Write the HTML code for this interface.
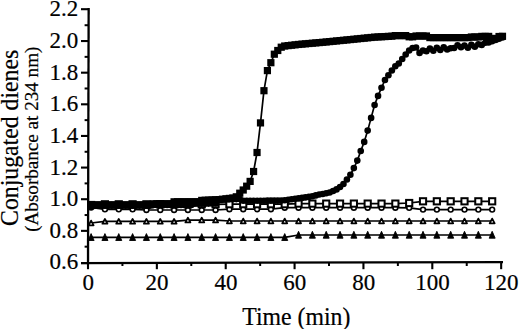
<!DOCTYPE html>
<html><head><meta charset="utf-8"><style>
html,body{margin:0;padding:0;background:#fff;}
svg{display:block;}
</style></head><body>
<svg width="520" height="329" viewBox="0 0 520 329">
<rect width="520" height="329" fill="#fff"/>
<g id="series">
<polyline points="91.10,237.30 104.93,237.30 118.76,237.30 132.59,237.30 146.42,237.30 160.25,237.30 174.08,237.30 187.91,237.30 201.74,237.30 215.57,237.30 229.40,237.30 243.23,237.30 257.06,237.30 270.89,237.30 284.72,237.30 298.55,235.00 312.38,235.00 326.21,235.00 340.04,235.00 353.87,235.00 367.70,235.00 381.53,235.00 395.36,235.00 409.19,235.00 423.02,235.00 436.85,235.00 450.68,235.00 464.51,235.00 478.34,235.00 492.17,235.00" fill="none" stroke="#000" stroke-width="1.70" stroke-linejoin="round"/>
<path d="M91.10 233.60L94.10 240.50L88.10 240.50Z" fill="#000" stroke="#000" stroke-width="0.9" stroke-linejoin="round"/>
<path d="M104.93 233.60L107.93 240.50L101.93 240.50Z" fill="#000" stroke="#000" stroke-width="0.9" stroke-linejoin="round"/>
<path d="M118.76 233.60L121.76 240.50L115.76 240.50Z" fill="#000" stroke="#000" stroke-width="0.9" stroke-linejoin="round"/>
<path d="M132.59 233.60L135.59 240.50L129.59 240.50Z" fill="#000" stroke="#000" stroke-width="0.9" stroke-linejoin="round"/>
<path d="M146.42 233.60L149.42 240.50L143.42 240.50Z" fill="#000" stroke="#000" stroke-width="0.9" stroke-linejoin="round"/>
<path d="M160.25 233.60L163.25 240.50L157.25 240.50Z" fill="#000" stroke="#000" stroke-width="0.9" stroke-linejoin="round"/>
<path d="M174.08 233.60L177.08 240.50L171.08 240.50Z" fill="#000" stroke="#000" stroke-width="0.9" stroke-linejoin="round"/>
<path d="M187.91 233.60L190.91 240.50L184.91 240.50Z" fill="#000" stroke="#000" stroke-width="0.9" stroke-linejoin="round"/>
<path d="M201.74 233.60L204.74 240.50L198.74 240.50Z" fill="#000" stroke="#000" stroke-width="0.9" stroke-linejoin="round"/>
<path d="M215.57 233.60L218.57 240.50L212.57 240.50Z" fill="#000" stroke="#000" stroke-width="0.9" stroke-linejoin="round"/>
<path d="M229.40 233.60L232.40 240.50L226.40 240.50Z" fill="#000" stroke="#000" stroke-width="0.9" stroke-linejoin="round"/>
<path d="M243.23 233.60L246.23 240.50L240.23 240.50Z" fill="#000" stroke="#000" stroke-width="0.9" stroke-linejoin="round"/>
<path d="M257.06 233.60L260.06 240.50L254.06 240.50Z" fill="#000" stroke="#000" stroke-width="0.9" stroke-linejoin="round"/>
<path d="M270.89 233.60L273.89 240.50L267.89 240.50Z" fill="#000" stroke="#000" stroke-width="0.9" stroke-linejoin="round"/>
<path d="M284.72 233.60L287.72 240.50L281.72 240.50Z" fill="#000" stroke="#000" stroke-width="0.9" stroke-linejoin="round"/>
<path d="M298.55 231.30L301.55 238.20L295.55 238.20Z" fill="#000" stroke="#000" stroke-width="0.9" stroke-linejoin="round"/>
<path d="M312.38 231.30L315.38 238.20L309.38 238.20Z" fill="#000" stroke="#000" stroke-width="0.9" stroke-linejoin="round"/>
<path d="M326.21 231.30L329.21 238.20L323.21 238.20Z" fill="#000" stroke="#000" stroke-width="0.9" stroke-linejoin="round"/>
<path d="M340.04 231.30L343.04 238.20L337.04 238.20Z" fill="#000" stroke="#000" stroke-width="0.9" stroke-linejoin="round"/>
<path d="M353.87 231.30L356.87 238.20L350.87 238.20Z" fill="#000" stroke="#000" stroke-width="0.9" stroke-linejoin="round"/>
<path d="M367.70 231.30L370.70 238.20L364.70 238.20Z" fill="#000" stroke="#000" stroke-width="0.9" stroke-linejoin="round"/>
<path d="M381.53 231.30L384.53 238.20L378.53 238.20Z" fill="#000" stroke="#000" stroke-width="0.9" stroke-linejoin="round"/>
<path d="M395.36 231.30L398.36 238.20L392.36 238.20Z" fill="#000" stroke="#000" stroke-width="0.9" stroke-linejoin="round"/>
<path d="M409.19 231.30L412.19 238.20L406.19 238.20Z" fill="#000" stroke="#000" stroke-width="0.9" stroke-linejoin="round"/>
<path d="M423.02 231.30L426.02 238.20L420.02 238.20Z" fill="#000" stroke="#000" stroke-width="0.9" stroke-linejoin="round"/>
<path d="M436.85 231.30L439.85 238.20L433.85 238.20Z" fill="#000" stroke="#000" stroke-width="0.9" stroke-linejoin="round"/>
<path d="M450.68 231.30L453.68 238.20L447.68 238.20Z" fill="#000" stroke="#000" stroke-width="0.9" stroke-linejoin="round"/>
<path d="M464.51 231.30L467.51 238.20L461.51 238.20Z" fill="#000" stroke="#000" stroke-width="0.9" stroke-linejoin="round"/>
<path d="M478.34 231.30L481.34 238.20L475.34 238.20Z" fill="#000" stroke="#000" stroke-width="0.9" stroke-linejoin="round"/>
<path d="M492.17 231.30L495.17 238.20L489.17 238.20Z" fill="#000" stroke="#000" stroke-width="0.9" stroke-linejoin="round"/>
<polyline points="91.10,223.00 104.93,221.40 118.76,221.40 132.59,221.40 146.42,221.40 160.25,221.40 174.08,221.40 187.91,220.10 201.74,220.10 215.57,220.10 229.40,221.00 243.23,221.00 257.06,221.00 270.89,221.00 284.72,221.00 298.55,221.00 312.38,221.00 326.21,221.00 340.04,221.00 353.87,221.00 367.70,221.00 381.53,221.00 395.36,221.00 409.19,221.00 423.02,221.00 436.85,221.00 450.68,221.00 464.51,221.00 478.34,221.00 492.17,221.00" fill="none" stroke="#000" stroke-width="1.70" stroke-linejoin="round"/>
<path d="M91.10 220.60L93.60 225.30L88.60 225.30Z" fill="#fff" stroke="#000" stroke-width="1.8" stroke-linejoin="round"/>
<path d="M104.93 219.00L107.43 223.70L102.43 223.70Z" fill="#fff" stroke="#000" stroke-width="1.8" stroke-linejoin="round"/>
<path d="M118.76 219.00L121.26 223.70L116.26 223.70Z" fill="#fff" stroke="#000" stroke-width="1.8" stroke-linejoin="round"/>
<path d="M132.59 219.00L135.09 223.70L130.09 223.70Z" fill="#fff" stroke="#000" stroke-width="1.8" stroke-linejoin="round"/>
<path d="M146.42 219.00L148.92 223.70L143.92 223.70Z" fill="#fff" stroke="#000" stroke-width="1.8" stroke-linejoin="round"/>
<path d="M160.25 219.00L162.75 223.70L157.75 223.70Z" fill="#fff" stroke="#000" stroke-width="1.8" stroke-linejoin="round"/>
<path d="M174.08 219.00L176.58 223.70L171.58 223.70Z" fill="#fff" stroke="#000" stroke-width="1.8" stroke-linejoin="round"/>
<path d="M187.91 217.70L190.41 222.40L185.41 222.40Z" fill="#fff" stroke="#000" stroke-width="1.8" stroke-linejoin="round"/>
<path d="M201.74 217.70L204.24 222.40L199.24 222.40Z" fill="#fff" stroke="#000" stroke-width="1.8" stroke-linejoin="round"/>
<path d="M215.57 217.70L218.07 222.40L213.07 222.40Z" fill="#fff" stroke="#000" stroke-width="1.8" stroke-linejoin="round"/>
<path d="M229.40 218.60L231.90 223.30L226.90 223.30Z" fill="#fff" stroke="#000" stroke-width="1.8" stroke-linejoin="round"/>
<path d="M243.23 218.60L245.73 223.30L240.73 223.30Z" fill="#fff" stroke="#000" stroke-width="1.8" stroke-linejoin="round"/>
<path d="M257.06 218.60L259.56 223.30L254.56 223.30Z" fill="#fff" stroke="#000" stroke-width="1.8" stroke-linejoin="round"/>
<path d="M270.89 218.60L273.39 223.30L268.39 223.30Z" fill="#fff" stroke="#000" stroke-width="1.8" stroke-linejoin="round"/>
<path d="M284.72 218.60L287.22 223.30L282.22 223.30Z" fill="#fff" stroke="#000" stroke-width="1.8" stroke-linejoin="round"/>
<path d="M298.55 218.60L301.05 223.30L296.05 223.30Z" fill="#fff" stroke="#000" stroke-width="1.8" stroke-linejoin="round"/>
<path d="M312.38 218.60L314.88 223.30L309.88 223.30Z" fill="#fff" stroke="#000" stroke-width="1.8" stroke-linejoin="round"/>
<path d="M326.21 218.60L328.71 223.30L323.71 223.30Z" fill="#fff" stroke="#000" stroke-width="1.8" stroke-linejoin="round"/>
<path d="M340.04 218.60L342.54 223.30L337.54 223.30Z" fill="#fff" stroke="#000" stroke-width="1.8" stroke-linejoin="round"/>
<path d="M353.87 218.60L356.37 223.30L351.37 223.30Z" fill="#fff" stroke="#000" stroke-width="1.8" stroke-linejoin="round"/>
<path d="M367.70 218.60L370.20 223.30L365.20 223.30Z" fill="#fff" stroke="#000" stroke-width="1.8" stroke-linejoin="round"/>
<path d="M381.53 218.60L384.03 223.30L379.03 223.30Z" fill="#fff" stroke="#000" stroke-width="1.8" stroke-linejoin="round"/>
<path d="M395.36 218.60L397.86 223.30L392.86 223.30Z" fill="#fff" stroke="#000" stroke-width="1.8" stroke-linejoin="round"/>
<path d="M409.19 218.60L411.69 223.30L406.69 223.30Z" fill="#fff" stroke="#000" stroke-width="1.8" stroke-linejoin="round"/>
<path d="M423.02 218.60L425.52 223.30L420.52 223.30Z" fill="#fff" stroke="#000" stroke-width="1.8" stroke-linejoin="round"/>
<path d="M436.85 218.60L439.35 223.30L434.35 223.30Z" fill="#fff" stroke="#000" stroke-width="1.8" stroke-linejoin="round"/>
<path d="M450.68 218.60L453.18 223.30L448.18 223.30Z" fill="#fff" stroke="#000" stroke-width="1.8" stroke-linejoin="round"/>
<path d="M464.51 218.60L467.01 223.30L462.01 223.30Z" fill="#fff" stroke="#000" stroke-width="1.8" stroke-linejoin="round"/>
<path d="M478.34 218.60L480.84 223.30L475.84 223.30Z" fill="#fff" stroke="#000" stroke-width="1.8" stroke-linejoin="round"/>
<path d="M492.17 218.60L494.67 223.30L489.67 223.30Z" fill="#fff" stroke="#000" stroke-width="1.8" stroke-linejoin="round"/>
<polyline points="91.10,207.50 104.93,209.30 118.76,209.30 132.59,209.30 146.42,210.00 160.25,210.00 174.08,210.00 187.91,210.00 201.74,210.00 215.57,210.00 229.40,209.20 243.23,209.20 257.06,209.20 270.89,209.20 284.72,207.70 298.55,207.70 312.38,207.70 326.21,207.70 340.04,207.70 353.87,207.70 367.70,207.70 381.53,207.70 395.36,207.70 409.19,207.80 423.02,209.60 436.85,209.60 450.68,209.60 464.51,209.60 478.34,209.60 492.17,209.60" fill="none" stroke="#000" stroke-width="1.70" stroke-linejoin="round"/>
<circle cx="91.10" cy="207.50" r="2.40" fill="#fff" stroke="#000" stroke-width="1.6"/>
<circle cx="104.93" cy="209.30" r="2.40" fill="#fff" stroke="#000" stroke-width="1.6"/>
<circle cx="118.76" cy="209.30" r="2.40" fill="#fff" stroke="#000" stroke-width="1.6"/>
<circle cx="132.59" cy="209.30" r="2.40" fill="#fff" stroke="#000" stroke-width="1.6"/>
<circle cx="146.42" cy="210.00" r="2.40" fill="#fff" stroke="#000" stroke-width="1.6"/>
<circle cx="160.25" cy="210.00" r="2.40" fill="#fff" stroke="#000" stroke-width="1.6"/>
<circle cx="174.08" cy="210.00" r="2.40" fill="#fff" stroke="#000" stroke-width="1.6"/>
<circle cx="187.91" cy="210.00" r="2.40" fill="#fff" stroke="#000" stroke-width="1.6"/>
<circle cx="201.74" cy="210.00" r="2.40" fill="#fff" stroke="#000" stroke-width="1.6"/>
<circle cx="215.57" cy="210.00" r="2.40" fill="#fff" stroke="#000" stroke-width="1.6"/>
<circle cx="229.40" cy="209.20" r="2.40" fill="#fff" stroke="#000" stroke-width="1.6"/>
<circle cx="243.23" cy="209.20" r="2.40" fill="#fff" stroke="#000" stroke-width="1.6"/>
<circle cx="257.06" cy="209.20" r="2.40" fill="#fff" stroke="#000" stroke-width="1.6"/>
<circle cx="270.89" cy="209.20" r="2.40" fill="#fff" stroke="#000" stroke-width="1.6"/>
<circle cx="284.72" cy="207.70" r="2.40" fill="#fff" stroke="#000" stroke-width="1.6"/>
<circle cx="298.55" cy="207.70" r="2.40" fill="#fff" stroke="#000" stroke-width="1.6"/>
<circle cx="312.38" cy="207.70" r="2.40" fill="#fff" stroke="#000" stroke-width="1.6"/>
<circle cx="326.21" cy="207.70" r="2.40" fill="#fff" stroke="#000" stroke-width="1.6"/>
<circle cx="340.04" cy="207.70" r="2.40" fill="#fff" stroke="#000" stroke-width="1.6"/>
<circle cx="353.87" cy="207.70" r="2.40" fill="#fff" stroke="#000" stroke-width="1.6"/>
<circle cx="367.70" cy="207.70" r="2.40" fill="#fff" stroke="#000" stroke-width="1.6"/>
<circle cx="381.53" cy="207.70" r="2.40" fill="#fff" stroke="#000" stroke-width="1.6"/>
<circle cx="395.36" cy="207.70" r="2.40" fill="#fff" stroke="#000" stroke-width="1.6"/>
<circle cx="409.19" cy="207.80" r="2.40" fill="#fff" stroke="#000" stroke-width="1.6"/>
<circle cx="423.02" cy="209.60" r="2.40" fill="#fff" stroke="#000" stroke-width="1.6"/>
<circle cx="436.85" cy="209.60" r="2.40" fill="#fff" stroke="#000" stroke-width="1.6"/>
<circle cx="450.68" cy="209.60" r="2.40" fill="#fff" stroke="#000" stroke-width="1.6"/>
<circle cx="464.51" cy="209.60" r="2.40" fill="#fff" stroke="#000" stroke-width="1.6"/>
<circle cx="478.34" cy="209.60" r="2.40" fill="#fff" stroke="#000" stroke-width="1.6"/>
<circle cx="492.17" cy="209.60" r="2.40" fill="#fff" stroke="#000" stroke-width="1.6"/>
<polyline points="91.10,205.00 104.93,204.30 118.76,204.30 132.59,204.30 146.42,204.30 160.25,204.30 174.08,204.30 187.91,204.30 201.74,204.30 215.57,204.30 229.40,204.20 243.23,204.20 257.06,204.20 270.89,204.20 284.72,204.20 298.55,203.60 312.38,203.60 326.21,203.60 340.04,203.60 353.87,203.60 367.70,203.60 381.53,203.60 395.36,203.60 409.19,203.00 423.02,201.30 436.85,201.30 450.68,201.30 464.51,201.30 478.34,201.30 492.17,201.30" fill="none" stroke="#000" stroke-width="1.70" stroke-linejoin="round"/>
<rect x="88.00" y="201.90" width="6.20" height="6.20" fill="#fff" stroke="#000" stroke-width="2"/>
<rect x="101.83" y="201.20" width="6.20" height="6.20" fill="#fff" stroke="#000" stroke-width="2"/>
<rect x="115.66" y="201.20" width="6.20" height="6.20" fill="#fff" stroke="#000" stroke-width="2"/>
<rect x="129.49" y="201.20" width="6.20" height="6.20" fill="#fff" stroke="#000" stroke-width="2"/>
<rect x="143.32" y="201.20" width="6.20" height="6.20" fill="#fff" stroke="#000" stroke-width="2"/>
<rect x="157.15" y="201.20" width="6.20" height="6.20" fill="#fff" stroke="#000" stroke-width="2"/>
<rect x="170.98" y="201.20" width="6.20" height="6.20" fill="#fff" stroke="#000" stroke-width="2"/>
<rect x="184.81" y="201.20" width="6.20" height="6.20" fill="#fff" stroke="#000" stroke-width="2"/>
<rect x="198.64" y="201.20" width="6.20" height="6.20" fill="#fff" stroke="#000" stroke-width="2"/>
<rect x="212.47" y="201.20" width="6.20" height="6.20" fill="#fff" stroke="#000" stroke-width="2"/>
<rect x="226.30" y="201.10" width="6.20" height="6.20" fill="#fff" stroke="#000" stroke-width="2"/>
<rect x="240.13" y="201.10" width="6.20" height="6.20" fill="#fff" stroke="#000" stroke-width="2"/>
<rect x="253.96" y="201.10" width="6.20" height="6.20" fill="#fff" stroke="#000" stroke-width="2"/>
<rect x="267.79" y="201.10" width="6.20" height="6.20" fill="#fff" stroke="#000" stroke-width="2"/>
<rect x="281.62" y="201.10" width="6.20" height="6.20" fill="#fff" stroke="#000" stroke-width="2"/>
<rect x="295.45" y="200.50" width="6.20" height="6.20" fill="#fff" stroke="#000" stroke-width="2"/>
<rect x="309.28" y="200.50" width="6.20" height="6.20" fill="#fff" stroke="#000" stroke-width="2"/>
<rect x="323.11" y="200.50" width="6.20" height="6.20" fill="#fff" stroke="#000" stroke-width="2"/>
<rect x="336.94" y="200.50" width="6.20" height="6.20" fill="#fff" stroke="#000" stroke-width="2"/>
<rect x="350.77" y="200.50" width="6.20" height="6.20" fill="#fff" stroke="#000" stroke-width="2"/>
<rect x="364.60" y="200.50" width="6.20" height="6.20" fill="#fff" stroke="#000" stroke-width="2"/>
<rect x="378.43" y="200.50" width="6.20" height="6.20" fill="#fff" stroke="#000" stroke-width="2"/>
<rect x="392.26" y="200.50" width="6.20" height="6.20" fill="#fff" stroke="#000" stroke-width="2"/>
<rect x="406.09" y="199.90" width="6.20" height="6.20" fill="#fff" stroke="#000" stroke-width="2"/>
<rect x="419.92" y="198.20" width="6.20" height="6.20" fill="#fff" stroke="#000" stroke-width="2"/>
<rect x="433.75" y="198.20" width="6.20" height="6.20" fill="#fff" stroke="#000" stroke-width="2"/>
<rect x="447.58" y="198.20" width="6.20" height="6.20" fill="#fff" stroke="#000" stroke-width="2"/>
<rect x="461.41" y="198.20" width="6.20" height="6.20" fill="#fff" stroke="#000" stroke-width="2"/>
<rect x="475.24" y="198.20" width="6.20" height="6.20" fill="#fff" stroke="#000" stroke-width="2"/>
<rect x="489.07" y="198.20" width="6.20" height="6.20" fill="#fff" stroke="#000" stroke-width="2"/>
<polyline points="91.11,205.60 94.56,205.60 98.02,205.60 101.48,205.60 104.94,205.60 108.39,205.60 111.85,205.60 115.31,205.60 118.76,205.60 122.22,205.60 125.68,205.60 129.13,205.60 132.59,205.60 136.05,205.60 139.50,205.60 142.96,205.60 146.42,205.60 149.88,205.60 153.33,205.00 156.79,205.00 160.25,205.00 163.70,205.00 167.16,205.00 170.62,205.00 174.07,205.00 177.53,205.00 180.99,205.00 184.45,205.00 187.90,205.00 191.36,205.00 194.82,203.80 198.27,203.75 201.73,203.70 205.19,203.65 208.64,203.60 212.10,203.55 215.56,203.50 219.02,199.50 222.47,199.42 225.93,199.33 229.39,199.25 232.84,199.17 236.30,199.08 239.76,199.00 243.22,200.80 246.67,200.78 250.13,200.76 253.59,200.75 257.04,200.73 260.50,200.71 263.96,200.69 267.41,200.67 270.87,200.65 274.33,200.64 277.78,200.62 281.24,200.60 284.70,200.30 288.16,199.80 291.61,199.20 295.07,198.70 298.53,198.30 301.98,197.90 305.44,197.40 308.90,196.90 312.36,196.20 315.81,195.40 319.27,194.50 322.73,194.00 326.18,193.30 329.64,192.50 333.10,191.00 336.55,189.40 340.01,187.00 343.47,184.00 346.92,179.50 350.38,174.75 353.84,168.10 357.30,160.60 360.75,151.00 364.21,141.90 367.67,130.60 371.12,117.90 374.58,105.00 378.04,95.90 381.50,87.75 384.95,80.00 388.41,75.25 391.87,70.50 395.32,66.25 398.78,63.50 402.24,59.00 405.69,54.50 409.15,50.50 412.61,48.00 416.06,47.50 419.52,52.90 422.98,50.50 426.44,51.20 429.89,48.60 433.35,50.70 436.81,47.80 440.26,49.95 443.72,47.40 447.18,49.50 450.63,48.20 454.09,48.00 457.55,45.20 461.01,47.30 464.46,45.50 467.92,47.70 471.38,44.90 474.83,46.80 478.29,44.20 481.75,44.90 485.21,42.70 488.66,42.50 492.12,41.30 495.58,40.00 499.03,38.80 502.49,37.50" fill="none" stroke="#000" stroke-width="1.70" stroke-linejoin="round"/>
<circle cx="91.11" cy="205.60" r="3.30"/>
<circle cx="94.56" cy="205.60" r="3.30"/>
<circle cx="98.02" cy="205.60" r="3.30"/>
<circle cx="101.48" cy="205.60" r="3.30"/>
<circle cx="104.94" cy="205.60" r="3.30"/>
<circle cx="108.39" cy="205.60" r="3.30"/>
<circle cx="111.85" cy="205.60" r="3.30"/>
<circle cx="115.31" cy="205.60" r="3.30"/>
<circle cx="118.76" cy="205.60" r="3.30"/>
<circle cx="122.22" cy="205.60" r="3.30"/>
<circle cx="125.68" cy="205.60" r="3.30"/>
<circle cx="129.13" cy="205.60" r="3.30"/>
<circle cx="132.59" cy="205.60" r="3.30"/>
<circle cx="136.05" cy="205.60" r="3.30"/>
<circle cx="139.50" cy="205.60" r="3.30"/>
<circle cx="142.96" cy="205.60" r="3.30"/>
<circle cx="146.42" cy="205.60" r="3.30"/>
<circle cx="149.88" cy="205.60" r="3.30"/>
<circle cx="153.33" cy="205.00" r="3.30"/>
<circle cx="156.79" cy="205.00" r="3.30"/>
<circle cx="160.25" cy="205.00" r="3.30"/>
<circle cx="163.70" cy="205.00" r="3.30"/>
<circle cx="167.16" cy="205.00" r="3.30"/>
<circle cx="170.62" cy="205.00" r="3.30"/>
<circle cx="174.07" cy="205.00" r="3.30"/>
<circle cx="177.53" cy="205.00" r="3.30"/>
<circle cx="180.99" cy="205.00" r="3.30"/>
<circle cx="184.45" cy="205.00" r="3.30"/>
<circle cx="187.90" cy="205.00" r="3.30"/>
<circle cx="191.36" cy="205.00" r="3.30"/>
<circle cx="194.82" cy="203.80" r="3.30"/>
<circle cx="198.27" cy="203.75" r="3.30"/>
<circle cx="201.73" cy="203.70" r="3.30"/>
<circle cx="205.19" cy="203.65" r="3.30"/>
<circle cx="208.64" cy="203.60" r="3.30"/>
<circle cx="212.10" cy="203.55" r="3.30"/>
<circle cx="215.56" cy="203.50" r="3.30"/>
<circle cx="219.02" cy="199.50" r="3.30"/>
<circle cx="222.47" cy="199.42" r="3.30"/>
<circle cx="225.93" cy="199.33" r="3.30"/>
<circle cx="229.39" cy="199.25" r="3.30"/>
<circle cx="232.84" cy="199.17" r="3.30"/>
<circle cx="236.30" cy="199.08" r="3.30"/>
<circle cx="239.76" cy="199.00" r="3.30"/>
<circle cx="243.22" cy="200.80" r="3.30"/>
<circle cx="246.67" cy="200.78" r="3.30"/>
<circle cx="250.13" cy="200.76" r="3.30"/>
<circle cx="253.59" cy="200.75" r="3.30"/>
<circle cx="257.04" cy="200.73" r="3.30"/>
<circle cx="260.50" cy="200.71" r="3.30"/>
<circle cx="263.96" cy="200.69" r="3.30"/>
<circle cx="267.41" cy="200.67" r="3.30"/>
<circle cx="270.87" cy="200.65" r="3.30"/>
<circle cx="274.33" cy="200.64" r="3.30"/>
<circle cx="277.78" cy="200.62" r="3.30"/>
<circle cx="281.24" cy="200.60" r="3.30"/>
<circle cx="284.70" cy="200.30" r="3.30"/>
<circle cx="288.16" cy="199.80" r="3.30"/>
<circle cx="291.61" cy="199.20" r="3.30"/>
<circle cx="295.07" cy="198.70" r="3.30"/>
<circle cx="298.53" cy="198.30" r="3.30"/>
<circle cx="301.98" cy="197.90" r="3.30"/>
<circle cx="305.44" cy="197.40" r="3.30"/>
<circle cx="308.90" cy="196.90" r="3.30"/>
<circle cx="312.36" cy="196.20" r="3.30"/>
<circle cx="315.81" cy="195.40" r="3.30"/>
<circle cx="319.27" cy="194.50" r="3.30"/>
<circle cx="322.73" cy="194.00" r="3.30"/>
<circle cx="326.18" cy="193.30" r="3.30"/>
<circle cx="329.64" cy="192.50" r="3.30"/>
<circle cx="333.10" cy="191.00" r="3.30"/>
<circle cx="336.55" cy="189.40" r="3.30"/>
<circle cx="340.01" cy="187.00" r="3.30"/>
<circle cx="343.47" cy="184.00" r="3.30"/>
<circle cx="346.92" cy="179.50" r="3.30"/>
<circle cx="350.38" cy="174.75" r="3.30"/>
<circle cx="353.84" cy="168.10" r="3.30"/>
<circle cx="357.30" cy="160.60" r="3.30"/>
<circle cx="360.75" cy="151.00" r="3.30"/>
<circle cx="364.21" cy="141.90" r="3.30"/>
<circle cx="367.67" cy="130.60" r="3.30"/>
<circle cx="371.12" cy="117.90" r="3.30"/>
<circle cx="374.58" cy="105.00" r="3.30"/>
<circle cx="378.04" cy="95.90" r="3.30"/>
<circle cx="381.50" cy="87.75" r="3.30"/>
<circle cx="384.95" cy="80.00" r="3.30"/>
<circle cx="388.41" cy="75.25" r="3.30"/>
<circle cx="391.87" cy="70.50" r="3.30"/>
<circle cx="395.32" cy="66.25" r="3.30"/>
<circle cx="398.78" cy="63.50" r="3.30"/>
<circle cx="402.24" cy="59.00" r="3.30"/>
<circle cx="405.69" cy="54.50" r="3.30"/>
<circle cx="409.15" cy="50.50" r="3.30"/>
<circle cx="412.61" cy="48.00" r="3.30"/>
<circle cx="416.06" cy="47.50" r="3.30"/>
<circle cx="419.52" cy="52.90" r="3.30"/>
<circle cx="422.98" cy="50.50" r="3.30"/>
<circle cx="426.44" cy="51.20" r="3.30"/>
<circle cx="429.89" cy="48.60" r="3.30"/>
<circle cx="433.35" cy="50.70" r="3.30"/>
<circle cx="436.81" cy="47.80" r="3.30"/>
<circle cx="440.26" cy="49.95" r="3.30"/>
<circle cx="443.72" cy="47.40" r="3.30"/>
<circle cx="447.18" cy="49.50" r="3.30"/>
<circle cx="450.63" cy="48.20" r="3.30"/>
<circle cx="454.09" cy="48.00" r="3.30"/>
<circle cx="457.55" cy="45.20" r="3.30"/>
<circle cx="461.01" cy="47.30" r="3.30"/>
<circle cx="464.46" cy="45.50" r="3.30"/>
<circle cx="467.92" cy="47.70" r="3.30"/>
<circle cx="471.38" cy="44.90" r="3.30"/>
<circle cx="474.83" cy="46.80" r="3.30"/>
<circle cx="478.29" cy="44.20" r="3.30"/>
<circle cx="481.75" cy="44.90" r="3.30"/>
<circle cx="485.21" cy="42.70" r="3.30"/>
<circle cx="488.66" cy="42.50" r="3.30"/>
<circle cx="492.12" cy="41.30" r="3.30"/>
<circle cx="495.58" cy="40.00" r="3.30"/>
<circle cx="499.03" cy="38.80" r="3.30"/>
<circle cx="502.49" cy="37.50" r="3.30"/>
<polyline points="91.11,204.90 94.56,204.90 98.02,204.90 101.48,204.90 104.94,204.90 108.39,204.90 111.85,204.90 115.31,204.90 118.76,204.90 122.22,204.90 125.68,204.90 129.13,204.90 132.59,204.90 136.05,204.90 139.50,204.90 142.96,204.90 146.42,204.90 149.88,204.90 153.33,203.80 156.79,203.80 160.25,203.80 163.70,203.80 167.16,203.80 170.62,203.80 174.07,201.80 177.53,201.80 180.99,201.80 184.45,201.80 187.90,201.80 191.36,201.80 194.82,201.80 198.27,201.80 201.73,200.40 205.19,200.24 208.64,200.08 212.10,199.92 215.56,199.76 219.02,199.60 222.47,199.20 225.93,198.80 229.39,198.40 232.84,198.00 236.30,196.80 239.76,193.20 243.22,190.00 246.67,186.20 250.13,181.40 253.59,171.50 257.04,152.50 260.50,122.90 263.96,90.70 267.41,70.60 270.87,62.70 274.33,54.20 277.78,50.50 281.24,47.20 284.70,46.00 288.16,45.61 291.61,45.23 295.07,44.84 298.53,44.45 301.98,44.12 305.44,43.81 308.90,43.51 312.36,43.20 315.81,42.89 319.27,42.59 322.73,42.28 326.18,41.96 329.64,41.62 333.10,41.28 336.55,40.94 340.01,40.59 343.47,40.25 346.92,39.91 350.38,39.57 353.84,39.22 357.30,38.87 360.75,38.52 364.21,38.18 367.67,37.83 371.12,37.48 374.58,37.13 378.04,36.93 381.50,36.75 384.95,36.57 388.41,36.38 391.87,36.20 395.32,35.60 398.78,35.60 402.24,35.60 405.69,35.60 409.15,36.80 412.61,36.80 416.06,36.00 419.52,36.00 422.98,36.00 426.44,36.00 429.89,37.60 433.35,37.60 436.81,37.60 440.26,37.60 443.72,37.60 447.18,37.60 450.63,37.60 454.09,37.60 457.55,37.60 461.01,37.60 464.46,37.60 467.92,37.60 471.38,37.00 474.83,37.00 478.29,37.00 481.75,36.40 485.21,36.40 488.66,36.40 492.12,38.50 495.58,38.50 499.03,36.50 502.49,36.30" fill="none" stroke="#000" stroke-width="1.70" stroke-linejoin="round"/>
<rect x="87.51" y="201.30" width="7.20" height="7.20"/>
<rect x="90.96" y="201.30" width="7.20" height="7.20"/>
<rect x="94.42" y="201.30" width="7.20" height="7.20"/>
<rect x="97.88" y="201.30" width="7.20" height="7.20"/>
<rect x="101.34" y="201.30" width="7.20" height="7.20"/>
<rect x="104.79" y="201.30" width="7.20" height="7.20"/>
<rect x="108.25" y="201.30" width="7.20" height="7.20"/>
<rect x="111.71" y="201.30" width="7.20" height="7.20"/>
<rect x="115.16" y="201.30" width="7.20" height="7.20"/>
<rect x="118.62" y="201.30" width="7.20" height="7.20"/>
<rect x="122.08" y="201.30" width="7.20" height="7.20"/>
<rect x="125.53" y="201.30" width="7.20" height="7.20"/>
<rect x="128.99" y="201.30" width="7.20" height="7.20"/>
<rect x="132.45" y="201.30" width="7.20" height="7.20"/>
<rect x="135.91" y="201.30" width="7.20" height="7.20"/>
<rect x="139.36" y="201.30" width="7.20" height="7.20"/>
<rect x="142.82" y="201.30" width="7.20" height="7.20"/>
<rect x="146.28" y="201.30" width="7.20" height="7.20"/>
<rect x="149.73" y="200.20" width="7.20" height="7.20"/>
<rect x="153.19" y="200.20" width="7.20" height="7.20"/>
<rect x="156.65" y="200.20" width="7.20" height="7.20"/>
<rect x="160.10" y="200.20" width="7.20" height="7.20"/>
<rect x="163.56" y="200.20" width="7.20" height="7.20"/>
<rect x="167.02" y="200.20" width="7.20" height="7.20"/>
<rect x="170.47" y="198.20" width="7.20" height="7.20"/>
<rect x="173.93" y="198.20" width="7.20" height="7.20"/>
<rect x="177.39" y="198.20" width="7.20" height="7.20"/>
<rect x="180.85" y="198.20" width="7.20" height="7.20"/>
<rect x="184.30" y="198.20" width="7.20" height="7.20"/>
<rect x="187.76" y="198.20" width="7.20" height="7.20"/>
<rect x="191.22" y="198.20" width="7.20" height="7.20"/>
<rect x="194.67" y="198.20" width="7.20" height="7.20"/>
<rect x="198.13" y="196.80" width="7.20" height="7.20"/>
<rect x="201.59" y="196.64" width="7.20" height="7.20"/>
<rect x="205.04" y="196.48" width="7.20" height="7.20"/>
<rect x="208.50" y="196.32" width="7.20" height="7.20"/>
<rect x="211.96" y="196.16" width="7.20" height="7.20"/>
<rect x="215.42" y="196.00" width="7.20" height="7.20"/>
<rect x="218.87" y="195.60" width="7.20" height="7.20"/>
<rect x="222.33" y="195.20" width="7.20" height="7.20"/>
<rect x="225.79" y="194.80" width="7.20" height="7.20"/>
<rect x="229.24" y="194.40" width="7.20" height="7.20"/>
<rect x="232.70" y="193.20" width="7.20" height="7.20"/>
<rect x="236.16" y="189.60" width="7.20" height="7.20"/>
<rect x="239.62" y="186.40" width="7.20" height="7.20"/>
<rect x="243.07" y="182.60" width="7.20" height="7.20"/>
<rect x="246.53" y="177.80" width="7.20" height="7.20"/>
<rect x="249.99" y="167.90" width="7.20" height="7.20"/>
<rect x="253.44" y="148.90" width="7.20" height="7.20"/>
<rect x="256.90" y="119.30" width="7.20" height="7.20"/>
<rect x="260.36" y="87.10" width="7.20" height="7.20"/>
<rect x="263.81" y="67.00" width="7.20" height="7.20"/>
<rect x="267.27" y="59.10" width="7.20" height="7.20"/>
<rect x="270.73" y="50.60" width="7.20" height="7.20"/>
<rect x="274.18" y="46.90" width="7.20" height="7.20"/>
<rect x="277.64" y="43.60" width="7.20" height="7.20"/>
<rect x="281.10" y="42.40" width="7.20" height="7.20"/>
<rect x="284.56" y="42.01" width="7.20" height="7.20"/>
<rect x="288.01" y="41.63" width="7.20" height="7.20"/>
<rect x="291.47" y="41.24" width="7.20" height="7.20"/>
<rect x="294.93" y="40.85" width="7.20" height="7.20"/>
<rect x="298.38" y="40.52" width="7.20" height="7.20"/>
<rect x="301.84" y="40.21" width="7.20" height="7.20"/>
<rect x="305.30" y="39.91" width="7.20" height="7.20"/>
<rect x="308.75" y="39.60" width="7.20" height="7.20"/>
<rect x="312.21" y="39.29" width="7.20" height="7.20"/>
<rect x="315.67" y="38.99" width="7.20" height="7.20"/>
<rect x="319.13" y="38.68" width="7.20" height="7.20"/>
<rect x="322.58" y="38.36" width="7.20" height="7.20"/>
<rect x="326.04" y="38.02" width="7.20" height="7.20"/>
<rect x="329.50" y="37.68" width="7.20" height="7.20"/>
<rect x="332.95" y="37.34" width="7.20" height="7.20"/>
<rect x="336.41" y="36.99" width="7.20" height="7.20"/>
<rect x="339.87" y="36.65" width="7.20" height="7.20"/>
<rect x="343.32" y="36.31" width="7.20" height="7.20"/>
<rect x="346.78" y="35.97" width="7.20" height="7.20"/>
<rect x="350.24" y="35.62" width="7.20" height="7.20"/>
<rect x="353.70" y="35.27" width="7.20" height="7.20"/>
<rect x="357.15" y="34.92" width="7.20" height="7.20"/>
<rect x="360.61" y="34.58" width="7.20" height="7.20"/>
<rect x="364.07" y="34.23" width="7.20" height="7.20"/>
<rect x="367.52" y="33.88" width="7.20" height="7.20"/>
<rect x="370.98" y="33.53" width="7.20" height="7.20"/>
<rect x="374.44" y="33.33" width="7.20" height="7.20"/>
<rect x="377.89" y="33.15" width="7.20" height="7.20"/>
<rect x="381.35" y="32.97" width="7.20" height="7.20"/>
<rect x="384.81" y="32.78" width="7.20" height="7.20"/>
<rect x="388.27" y="32.60" width="7.20" height="7.20"/>
<rect x="391.72" y="32.00" width="7.20" height="7.20"/>
<rect x="395.18" y="32.00" width="7.20" height="7.20"/>
<rect x="398.64" y="32.00" width="7.20" height="7.20"/>
<rect x="402.09" y="32.00" width="7.20" height="7.20"/>
<rect x="405.55" y="33.20" width="7.20" height="7.20"/>
<rect x="409.01" y="33.20" width="7.20" height="7.20"/>
<rect x="412.46" y="32.40" width="7.20" height="7.20"/>
<rect x="415.92" y="32.40" width="7.20" height="7.20"/>
<rect x="419.38" y="32.40" width="7.20" height="7.20"/>
<rect x="422.84" y="32.40" width="7.20" height="7.20"/>
<rect x="426.29" y="34.00" width="7.20" height="7.20"/>
<rect x="429.75" y="34.00" width="7.20" height="7.20"/>
<rect x="433.21" y="34.00" width="7.20" height="7.20"/>
<rect x="436.66" y="34.00" width="7.20" height="7.20"/>
<rect x="440.12" y="34.00" width="7.20" height="7.20"/>
<rect x="443.58" y="34.00" width="7.20" height="7.20"/>
<rect x="447.03" y="34.00" width="7.20" height="7.20"/>
<rect x="450.49" y="34.00" width="7.20" height="7.20"/>
<rect x="453.95" y="34.00" width="7.20" height="7.20"/>
<rect x="457.41" y="34.00" width="7.20" height="7.20"/>
<rect x="460.86" y="34.00" width="7.20" height="7.20"/>
<rect x="464.32" y="34.00" width="7.20" height="7.20"/>
<rect x="467.78" y="33.40" width="7.20" height="7.20"/>
<rect x="471.23" y="33.40" width="7.20" height="7.20"/>
<rect x="474.69" y="33.40" width="7.20" height="7.20"/>
<rect x="478.15" y="32.80" width="7.20" height="7.20"/>
<rect x="481.61" y="32.80" width="7.20" height="7.20"/>
<rect x="485.06" y="32.80" width="7.20" height="7.20"/>
<rect x="488.52" y="34.90" width="7.20" height="7.20"/>
<rect x="491.98" y="34.90" width="7.20" height="7.20"/>
<rect x="495.43" y="32.90" width="7.20" height="7.20"/>
<rect x="498.89" y="32.70" width="7.20" height="7.20"/>
</g>
<g id="axes">
<path d="M88.65 8.10L88.0 264.20" stroke="#000" stroke-width="2.3" fill="none"/>
<path d="M81 263.05L503 262.2" stroke="#000" stroke-width="2.2" fill="none"/>
<path d="M81 263.05H88.30" stroke="#000" stroke-width="2.1"/>
<path d="M84.6 246.67H88.30" stroke="#000" stroke-width="2.0"/>
<path d="M81 230.86H88.30" stroke="#000" stroke-width="2.1"/>
<path d="M84.6 215.04H88.30" stroke="#000" stroke-width="2.0"/>
<path d="M81 199.22H88.30" stroke="#000" stroke-width="2.1"/>
<path d="M84.6 183.40H88.30" stroke="#000" stroke-width="2.0"/>
<path d="M81 167.58H88.30" stroke="#000" stroke-width="2.1"/>
<path d="M84.6 151.77H88.30" stroke="#000" stroke-width="2.0"/>
<path d="M81 135.95H88.30" stroke="#000" stroke-width="2.1"/>
<path d="M84.6 120.13H88.30" stroke="#000" stroke-width="2.0"/>
<path d="M81 104.31H88.30" stroke="#000" stroke-width="2.1"/>
<path d="M84.6 88.49H88.30" stroke="#000" stroke-width="2.0"/>
<path d="M81 72.68H88.30" stroke="#000" stroke-width="2.1"/>
<path d="M84.6 56.86H88.30" stroke="#000" stroke-width="2.0"/>
<path d="M81 41.04H88.30" stroke="#000" stroke-width="2.1"/>
<path d="M84.6 25.22H88.30" stroke="#000" stroke-width="2.0"/>
<path d="M81 9.20H88.30" stroke="#000" stroke-width="2.1"/>
<path d="M88.00 262.50V269.2" stroke="#000" stroke-width="2.1"/>
<path d="M122.43 262.50V266" stroke="#000" stroke-width="2.0"/>
<path d="M156.86 262.50V269.2" stroke="#000" stroke-width="2.1"/>
<path d="M191.29 262.50V266" stroke="#000" stroke-width="2.0"/>
<path d="M225.72 262.50V269.2" stroke="#000" stroke-width="2.1"/>
<path d="M260.15 262.50V266" stroke="#000" stroke-width="2.0"/>
<path d="M294.58 262.50V269.2" stroke="#000" stroke-width="2.1"/>
<path d="M329.01 262.50V266" stroke="#000" stroke-width="2.0"/>
<path d="M363.44 262.50V269.2" stroke="#000" stroke-width="2.1"/>
<path d="M397.87 262.50V266" stroke="#000" stroke-width="2.0"/>
<path d="M432.30 262.50V269.2" stroke="#000" stroke-width="2.1"/>
<path d="M466.73 262.50V266" stroke="#000" stroke-width="2.0"/>
<path d="M501.16 262.50V269.2" stroke="#000" stroke-width="2.1"/>
</g>
<g id="labels" fill="#000" stroke="#000" stroke-width="0.2">
<text text-anchor="end" style="font-family:'Liberation Serif',serif;font-size:23px" transform="translate(78.3 269.49) scale(1 1.03)">0.6</text>
<text text-anchor="end" style="font-family:'Liberation Serif',serif;font-size:23px" transform="translate(78.3 237.86) scale(1 1.03)">0.8</text>
<text text-anchor="end" style="font-family:'Liberation Serif',serif;font-size:23px" transform="translate(78.3 206.22) scale(1 1.03)">1.0</text>
<text text-anchor="end" style="font-family:'Liberation Serif',serif;font-size:23px" transform="translate(78.3 174.58) scale(1 1.03)">1.2</text>
<text text-anchor="end" style="font-family:'Liberation Serif',serif;font-size:23px" transform="translate(78.3 142.95) scale(1 1.03)">1.4</text>
<text text-anchor="end" style="font-family:'Liberation Serif',serif;font-size:23px" transform="translate(78.3 111.31) scale(1 1.03)">1.6</text>
<text text-anchor="end" style="font-family:'Liberation Serif',serif;font-size:23px" transform="translate(78.3 79.68) scale(1 1.03)">1.8</text>
<text text-anchor="end" style="font-family:'Liberation Serif',serif;font-size:23px" transform="translate(78.3 48.04) scale(1 1.03)">2.0</text>
<text text-anchor="end" style="font-family:'Liberation Serif',serif;font-size:23px" transform="translate(78.3 16.20) scale(1 1.03)">2.2</text>
<text text-anchor="middle" style="font-family:'Liberation Serif',serif;font-size:23px" transform="translate(88.20 289.9) scale(1 1.035)">0</text>
<text text-anchor="middle" style="font-family:'Liberation Serif',serif;font-size:23px" transform="translate(157.06 289.9) scale(1 1.035)">20</text>
<text text-anchor="middle" style="font-family:'Liberation Serif',serif;font-size:23px" transform="translate(225.92 289.9) scale(1 1.035)">40</text>
<text text-anchor="middle" style="font-family:'Liberation Serif',serif;font-size:23px" transform="translate(294.78 289.9) scale(1 1.035)">60</text>
<text text-anchor="middle" style="font-family:'Liberation Serif',serif;font-size:23px" transform="translate(363.64 289.9) scale(1 1.035)">80</text>
<text text-anchor="middle" style="font-family:'Liberation Serif',serif;font-size:23px" transform="translate(432.50 289.9) scale(1 1.035)">100</text>
<text text-anchor="middle" style="font-family:'Liberation Serif',serif;font-size:23px" transform="translate(501.36 289.9) scale(1 1.035)">120</text>
<text transform="translate(242.3 324.5) scale(1 1.1)" style="font-family:'Liberation Serif',serif;font-size:23.8px">Time (min)</text>
<text transform="translate(18.2 225.9) rotate(-90)" style="font-family:'Liberation Serif',serif;font-size:24.5px" textLength="176.2" lengthAdjust="spacingAndGlyphs">Conjugated dienes</text>
<text transform="translate(37.8 231.8) rotate(-90)" style="font-family:'Liberation Serif',serif;font-size:19.6px" textLength="185.2" lengthAdjust="spacingAndGlyphs">(Absorbance at 234 nm)</text>
</g>
</svg>
</body></html>
